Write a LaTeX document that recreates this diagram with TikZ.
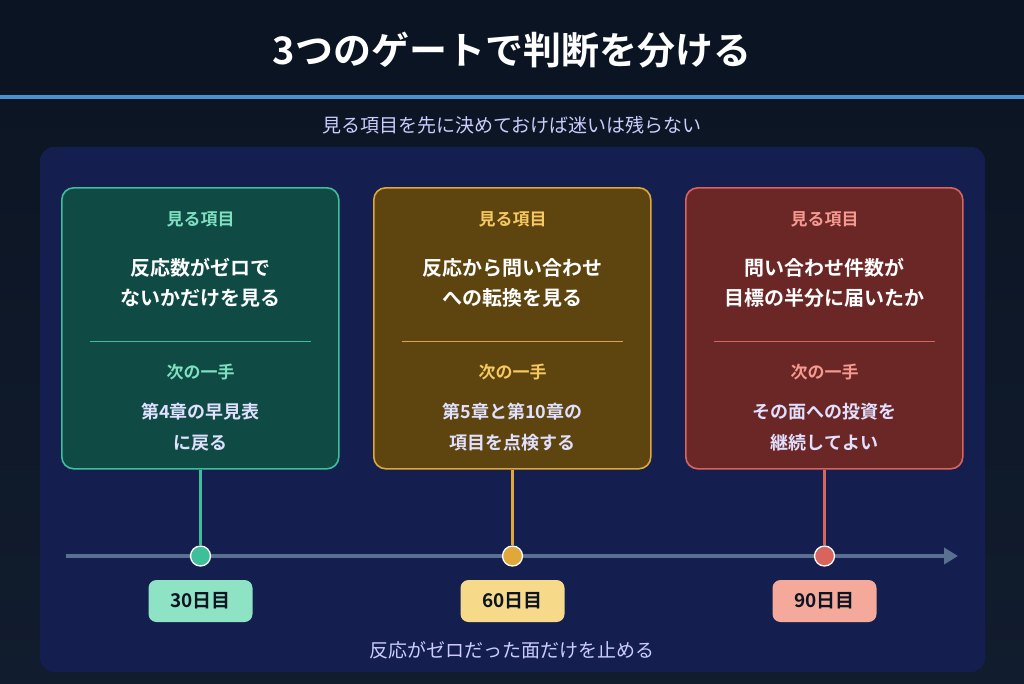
\documentclass[tikz,border=0pt]{standalone}
\usepackage{fontspec}
\setmainfont{Noto Sans CJK JP}
\newfontfamily\jpb{Noto Sans CJK JP}[BoldFont=* Bold]
\usetikzlibrary{arrows.meta}
\definecolor{bgA}{HTML}{0B1422}
\definecolor{bgB}{HTML}{111C2E}
\definecolor{panel}{HTML}{141F50}
\definecolor{lineC}{HTML}{4A8FD0}
\definecolor{tl}{HTML}{5A7090}
\definecolor{gF}{HTML}{0F4A45}\definecolor{gB}{HTML}{3DBF9A}\definecolor{gH}{HTML}{7FE0C0}\definecolor{gL}{HTML}{8FE3C5}
\definecolor{yF}{HTML}{5E4510}\definecolor{yB}{HTML}{E0A83A}\definecolor{yH}{HTML}{F5C860}\definecolor{yL}{HTML}{F7D98A}
\definecolor{rF}{HTML}{6B2626}\definecolor{rB}{HTML}{D9645E}\definecolor{rH}{HTML}{F59A90}\definecolor{rL}{HTML}{F5A99B}
\begin{document}
\begin{tikzpicture}[x=1pt,y=-1pt,
 card/.style={draw=#1,line width=1.6pt,rounded corners=12pt,minimum width=277pt,minimum height=281pt,anchor=north west},
 hd/.style={text=#1,font=\jpb\bfseries\fontsize{17}{20}\selectfont},
 main/.style={text=white,align=center,font=\jpb\bfseries\fontsize{20}{30}\selectfont},
 sub/.style={text=white!88!blue,align=center,font=\jpb\bfseries\fontsize{18}{31}\selectfont},
 dot/.style={circle,fill=#1,draw=white,line width=1.3pt,minimum size=20pt,inner sep=0pt},
 lab/.style={fill=#1,rounded corners=8pt,minimum width=104pt,minimum height=42pt,text=bgA,font=\jpb\bfseries\fontsize{19}{20}\selectfont}]
\useasboundingbox (0,0) rectangle (1024,683);
\shade[top color=bgA,bottom color=bgB] (0,0) rectangle (1024,683);
\fill[bgA] (0,0) rectangle (1024,95);
\fill[lineC] (0,95) rectangle (1024,99);
\node[text=white,font=\jpb\bfseries\fontsize{38}{42}\selectfont] (title) at (512,50) {3つのゲートで判断を分ける};
\node[text=white!80!blue,font=\jpb\fontsize{19}{20}\selectfont] (subt) at (512,125) {見る項目を先に決めておけば迷いは残らない};
\fill[panel,rounded corners=14pt] (40,147) rectangle (985,672);
\draw[tl,line width=3.5pt,-{Triangle[length=14pt,width=16pt]}] (66,556) -- (958,556);
\foreach \x/\c/\n/\ma/\mb/\sa/\sb/\d in {
 61/g/1/反応数がゼロで/ないかだけを見る/第4章の早見表/に戻る/30日目,
 373/y/2/反応から問い合わせ/への転換を見る/第5章と第10章の/項目を点検する/60日目,
 685/r/3/問い合わせ件数が/目標の半分に届いたか/その面への投資を/継続してよい/90日目}{
 \node[card=\c B,fill=\c F] (card\n) at (\x,187) {};
 \node[hd=\c H] (h\n) at (\x+139.5,219) {見る項目};
 \node[main] (m\n) at (\x+139.5,283) {\ma\\\mb};
 \draw[\c B,line width=1pt] (\x+29,341) -- (\x+250,341);
 \node[hd=\c H] (n\n) at (\x+139.5,372) {次の一手};
 \node[sub] (s\n) at (\x+139.5,427) {\sa\\\sb};
 \node[dot=\c B] (d\n) at (\x+139.5,556) {};
 \draw[\c B,line width=3pt] (d\n.north |- card\n.south) -- (d\n.north);
 \node[lab=\c L] (l\n) at (\x+139.5,601) {\d};
}
\node[text=white!80!blue,font=\jpb\fontsize{19}{20}\selectfont] (foot) at (512,650) {反応がゼロだった面だけを止める};
\end{tikzpicture}
\end{document}
